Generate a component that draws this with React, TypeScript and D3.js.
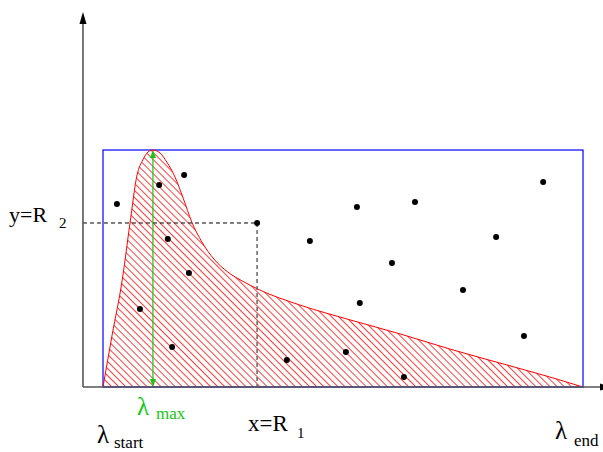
import * as d3 from "d3";

// wavelength normalised: 0 = lambda_start, 1 = lambda_end; intensity normalised to peak
const curveLambda = [0, 0.019, 0.04, 0.056, 0.071, 0.083, 0.094, 0.104, 0.119, 0.133, 0.15, 0.167, 0.185, 0.206, 0.231, 0.26, 0.294, 0.327, 0.41, 0.515, 0.619, 0.723, 0.827, 0.931, 1];
const curveIntensity = [0, 0.219, 0.451, 0.688, 0.895, 0.958, 0.992, 1, 0.987, 0.949, 0.886, 0.797, 0.696, 0.612, 0.54, 0.485, 0.443, 0.409, 0.346, 0.283, 0.224, 0.16, 0.101, 0.042, 0];

const dotX = [0.029, 0.117, 0.169, 0.135, 0.179, 0.077, 0.144, 0.321, 0.431, 0.529, 0.65, 0.602, 0.535, 0.383, 0.506, 0.627, 0.75, 0.819, 0.917, 0.877];
const dotY = [0.772, 0.852, 0.895, 0.624, 0.481, 0.329, 0.169, 0.692, 0.616, 0.759, 0.781, 0.523, 0.354, 0.114, 0.148, 0.042, 0.409, 0.633, 0.865, 0.215];

const R1 = 0.321;
const R2 = 0.692;
const lambdaMax = 0.104;

const width = 603;
const height = 452;

export default function App() {
  const x = d3.scaleLinear().domain([0, 1]).range([103, 583]);
  const y = d3.scaleLinear().domain([0, 1]).range([387, 150]);

  const axisX = x(-0.0417);
  const axisY = y(0);

  const pts: [number, number][] = curveLambda.map((l, i) => [l, curveIntensity[i]]);
  const area = d3
    .area<[number, number]>()
    .x(d => x(d[0]))
    .y0(y(0))
    .y1(d => y(d[1]))
    .curve(d3.curveMonotoneX);
  const line = d3
    .line<[number, number]>()
    .x(d => x(d[0]))
    .y(d => y(d[1]))
    .curve(d3.curveMonotoneX);

  const green = "#14c814";
  const font = "Liberation Serif, Times New Roman, DejaVu Serif, serif";
  const gx = x(lambdaMax);

  return (
    <svg width={width} height={height} style={{ position: "absolute", left: 0, top: 0 }}>
      <defs>
        <pattern id="hatch" width="5" height="5" patternUnits="userSpaceOnUse" patternTransform="rotate(-45)">
          <line x1="0" y1="0" x2="0" y2="5" stroke="#ff0000" strokeWidth="1.5" />
        </pattern>
      </defs>

      <rect x={x(0)} y={y(1)} width={x(1) - x(0)} height={y(0) - y(1)} fill="none" stroke="blue" strokeWidth={1.2} />

      <path d={area(pts) ?? ""} fill="url(#hatch)" />
      <path d={line(pts) ?? ""} fill="none" stroke="red" strokeWidth={1} />

      <line x1={axisX} y1={y(R2)} x2={x(R1)} y2={y(R2)} stroke="#000" strokeDasharray="4,3" strokeWidth={1} />
      <line x1={x(R1)} y1={y(R2)} x2={x(R1)} y2={axisY} stroke="#666" strokeDasharray="4,3" strokeWidth={1.5} />

      <line x1={gx} y1={y(1) + 2} x2={gx} y2={axisY - 2} stroke={green} strokeWidth={1.2} />
      <path d={`M${gx},${y(1)} L${gx - 3},${y(1) + 8} L${gx + 3},${y(1) + 8} Z`} fill={green} />
      <path d={`M${gx},${axisY} L${gx - 3},${axisY - 8} L${gx + 3},${axisY - 8} Z`} fill={green} />

      {dotX.map((d, i) => (
        <circle key={i} cx={x(d)} cy={y(dotY[i])} r={3} fill="#000" />
      ))}

      <line x1={axisX} y1={axisY} x2={axisX} y2={22} stroke="#555" strokeWidth={1.6} />
      <path d={`M${axisX},12 L${axisX - 3.5},24 L${axisX + 3.5},24 Z`} fill="#000" />
      <line x1={axisX} y1={axisY} x2={600} y2={axisY} stroke="#555" strokeWidth={1.6} />
      <path d={`M612,${axisY} L600,${axisY - 3.5} L600,${axisY + 3.5} Z`} fill="#000" />

      <g style={{ fontFamily: font }} fill="#000">
        <text x={9} y={222} fontSize={22}>y=R</text>
        <text x={59} y={228} fontSize={15}>2</text>

        <text x={248} y={431} fontSize={23}>x=R</text>
        <text x={297} y={438} fontSize={15}>1</text>

        <text x={97} y={443} fontSize={25}>λ</text>
        <text x={114} y={448} fontSize={17}>start</text>

        <text x={555} y={439} fontSize={25}>λ</text>
        <text x={574} y={446} fontSize={17}>end</text>

        <text x={137} y={415} fontSize={25} fill={green}>λ</text>
        <text x={156} y={419} fontSize={17} fill={green}>max</text>
      </g>
    </svg>
  );
}
